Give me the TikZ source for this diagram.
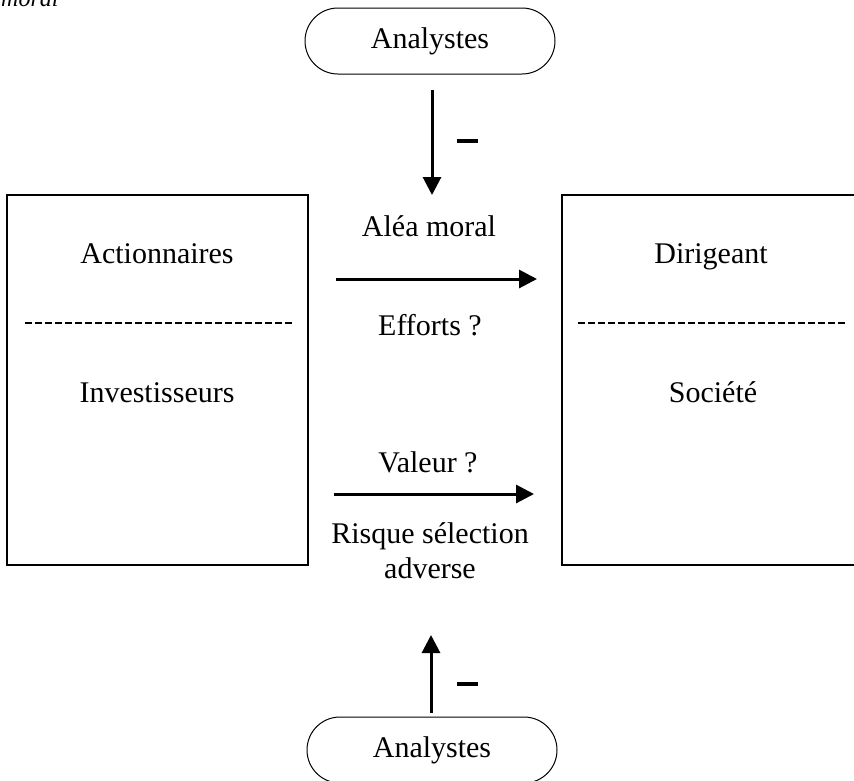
\documentclass[tikz,border=0pt]{standalone}
\usepackage{fontspec}
\setmainfont{Liberation Serif}
\usetikzlibrary{arrows.meta,shapes.misc}
\begin{document}
\begin{tikzpicture}[x=1pt,y=-1pt,
  lbl/.style={font=\fontsize{30}{32}\selectfont, inner sep=0pt, anchor=base},
  pill/.style={draw, line width=1pt, rounded rectangle, minimum width=250pt,
    minimum height=66pt, inner sep=0pt, font=\fontsize{30}{32}\selectfont},
  panel/.style={draw, line width=1.6pt, inner sep=0pt},
  sep/.style={dash pattern=on 7pt off 3pt, line width=1.2pt},
  flow/.style={line width=3pt, -{Triangle[length=18pt,width=18pt]}},
  minus/.style={line width=4pt}]
\useasboundingbox (0,0) rectangle (854,780);
\clip (0,0) rectangle (854,780);

% italic caption fragment at the very top
\node[font=\fontsize{24}{26}\selectfont\itshape, inner sep=0pt, anchor=base west]
  (cap) at (1,6) {moral};

% the two "Analystes" terminals
\node[pill] (anTop) at (430,41) {Analystes};
\node[pill] (anBot) at (432,750) {Analystes};

% left and right panels
\node[panel, minimum width=301pt, minimum height=370pt] (left) at (157.5,380) {};
\node[panel, minimum width=300pt, minimum height=370pt] (right) at (712,380) {};

\node[lbl] (act) at (157,263) {Actionnaires};
\node[lbl] (inv) at (157,402) {Investisseurs};
\node[lbl] (dir) at (711,263) {Dirigeant};
\node[lbl] (soc) at (713,402) {Société};

\coordinate (lsepA) at (25,323);
\coordinate (lsepB) at (292,323);
\coordinate (rsepA) at (578,323);
\coordinate (rsepB) at (848,323);
\draw[sep] (lsepA) -- (lsepB);
\draw[sep] (rsepA) -- (rsepB);

% centre column labels
\node[lbl] (alea) at (429,236) {Aléa moral};
\node[lbl] (eff) at (430,335) {Efforts ?};
\node[lbl] (val) at (428,472) {Valeur ?};
\node[lbl] (risk) at (430,543) {Risque sélection};
\node[lbl] (adv) at (430,578) {adverse};

% horizontal arrows
\coordinate (h1a) at (336,279);
\coordinate (h1b) at (537,279);
\coordinate (h2a) at (334,494);
\coordinate (h2b) at (534,494);
\draw[flow] (h1a) -- (h1b);
\draw[flow] (h2a) -- (h2b);

% vertical arrows from the analysts
\coordinate (v1a) at (432,90);
\coordinate (v1b) at (432,195);
\coordinate (v2a) at (431,713);
\coordinate (v2b) at (431,635);
\draw[flow] (v1a) -- (v1b);
\draw[flow] (v2a) -- (v2b);

% minus signs
\coordinate (m1a) at (457,141);
\coordinate (m1b) at (478,141);
\coordinate (m2a) at (457,684);
\coordinate (m2b) at (478,684);
\draw[minus] (m1a) -- (m1b);
\draw[minus] (m2a) -- (m2b);
\end{tikzpicture}
\end{document}
